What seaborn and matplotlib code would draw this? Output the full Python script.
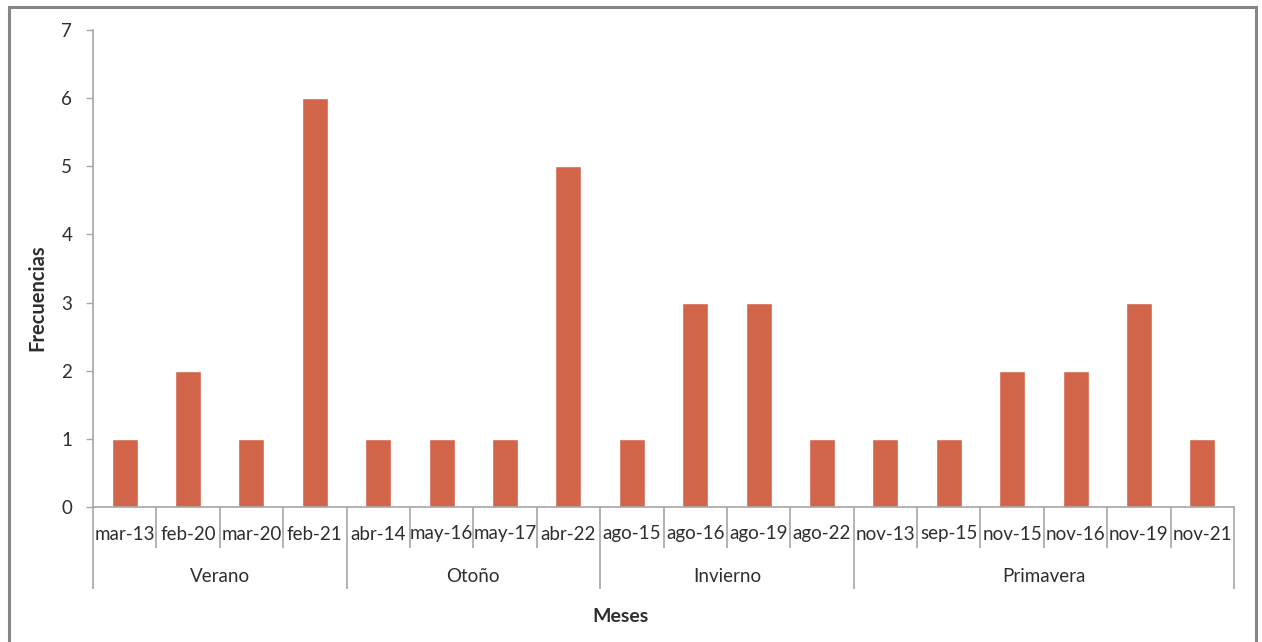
import matplotlib
matplotlib.use("Agg")
import matplotlib.pyplot as plt
from matplotlib.patches import Rectangle
import seaborn as sns
import pandas as pd

# Frequencies by month, grouped by season
seasons = ["Verano", "Otoño", "Invierno", "Primavera"]
months = [
    ["mar-13", "feb-20", "mar-20", "feb-21"],
    ["abr-14", "may-16", "may-17", "abr-22"],
    ["ago-15", "ago-16", "ago-19", "ago-22"],
    ["nov-13", "sep-15", "nov-15", "nov-16", "nov-19", "nov-21"],
]
freqs = [
    [1, 2, 1, 6],
    [1, 1, 1, 5],
    [1, 3, 3, 1],
    [1, 1, 2, 2, 3, 1],
]

rows = []
for s, ms, fs in zip(seasons, months, freqs):
    for m, f in zip(ms, fs):
        rows.append({"estacion": s, "mes": m, "freq": f})
df = pd.DataFrame(rows)

sns.set_style("white")
plt.rcParams["font.family"] = ["Lato", "DejaVu Sans"]

W, H = 1262, 642
fig = plt.figure(figsize=(W / 100, H / 100), dpi=100)
ax = fig.add_axes([93 / W, 1 - 507 / H, (1234 - 93) / W, (507 - 30) / H])

bar_color = "#D2644A"
axis_color = "#A6A6A6"
text_color = "#2E2E2E"

sns.barplot(data=df, x="mes", y="freq", order=list(df["mes"]), color=bar_color,
            saturation=1, width=0.41, ax=ax, errorbar=None)

n = len(df)
ax.set_xlim(-0.5, n - 0.5)
ax.set_ylim(0, 7)
ax.set_yticks(range(0, 8))
ax.tick_params(axis="y", length=5, width=1, color=axis_color, labelsize=13.5,
               labelcolor=text_color, pad=10, left=True)
ax.set_xticks([])
ax.set_xlabel("")
ax.set_ylabel("")
for side in ["top", "right"]:
    ax.spines[side].set_visible(False)
for side in ["left", "bottom"]:
    ax.spines[side].set_color(axis_color)
    ax.spines[side].set_linewidth(1.2)

# Multi-level category axis drawn below the bars
trans = ax.get_xaxis_transform()
px = 1 / (507 - 30)  # one pixel in axes-height units
month_depth = -41 * px
group_depth = -82 * px

boundaries = [-0.5]
pos = -0.5
group_edges = [-0.5]
for ms in months:
    for _ in ms:
        pos += 1
        boundaries.append(pos)
    group_edges.append(pos)

for b in boundaries:
    depth = group_depth if b in group_edges else month_depth
    ax.plot([b, b], [0, depth], transform=trans, color=axis_color, lw=1.2,
            clip_on=False, solid_capstyle="butt")

for i, m in enumerate(df["mes"]):
    ax.text(i, -27 * px, m, transform=trans, ha="center", va="center",
            fontsize=13.5, color=text_color)

start = 0
for s, ms in zip(seasons, months):
    center = start + (len(ms) - 1) / 2
    ax.text(center, -69 * px, s, transform=trans, ha="center", va="center",
            fontsize=13.5, color=text_color)
    start += len(ms)

fig.text(621 / W, 1 - 616 / H, "Meses", ha="center", va="center",
         fontsize=14, fontweight="bold", color=text_color)
fig.text(37 / W, 1 - 298 / H, "Frecuencias", ha="center", va="center",
         rotation=90, fontsize=14.5, fontweight="bold", color=text_color)

# Outer chart frame
fig.patches.append(Rectangle((8.5 / W, -0.05), (1256 - 8.5) / W, 1 - 6.5 / H + 0.05,
                             transform=fig.transFigure, fill=False,
                             edgecolor="#868686", linewidth=2.2))

fig.savefig("out.png", dpi=100)
